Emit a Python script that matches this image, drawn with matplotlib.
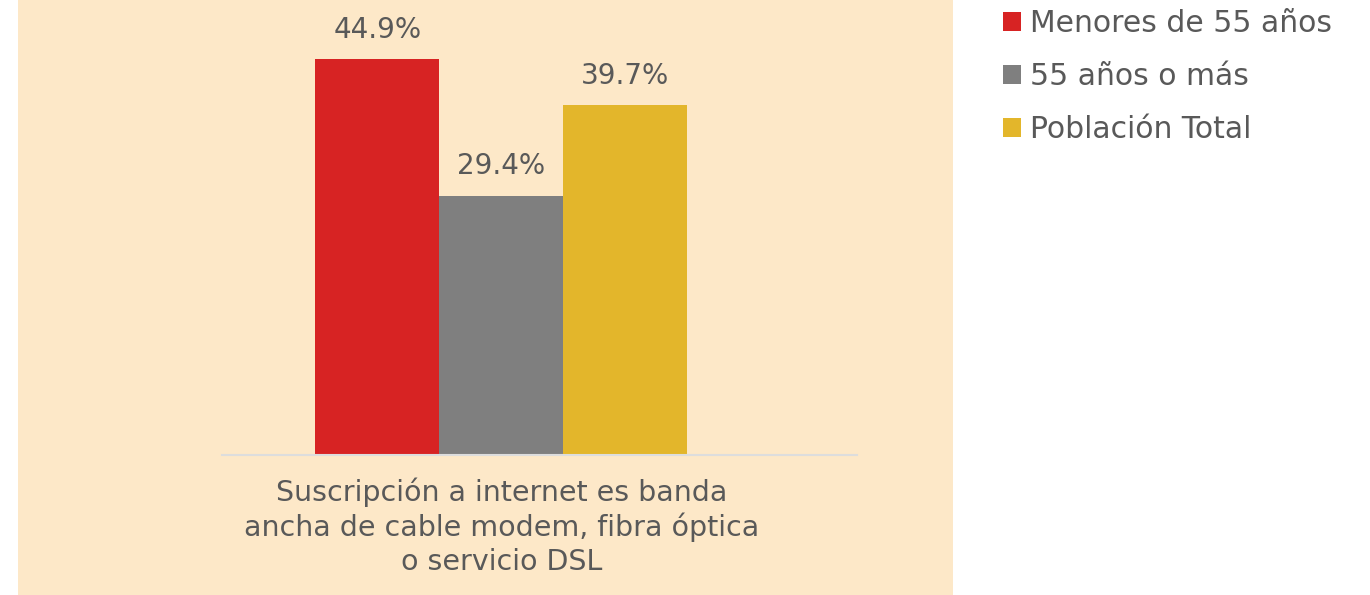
import matplotlib.pyplot as plt
from matplotlib.patches import Rectangle

category = 'Suscripción a internet es banda\nancha de cable modem, fibra óptica\no servicio DSL'
series = ['Menores de 55 años', '55 años o más', 'Población Total']
values = [44.9, 29.4, 39.7]
colors = ['#D72323', '#7F7F7F', '#E3B62B']

plt.rcParams['font.family'] = ['DejaVu Sans']
text_color = '#595959'

fig = plt.figure(figsize=(13.7, 5.95), dpi=100)
fig.patch.set_facecolor('white')
fig.patches.append(Rectangle((18 / 1370, 0), (953 - 18) / 1370, 1, transform=fig.transFigure,
                             facecolor='#FDE8C8', edgecolor='none', zorder=-1))

ax = fig.add_axes([222 / 1370, 140 / 595, 635 / 1370, 455 / 595])
ax.set_facecolor('none')
ax.set_zorder(1)

for i, (name, v, c) in enumerate(zip(series, values, colors)):
    ax.bar(i, v, width=1.0, color=c, label=name, zorder=2)
    ax.text(i, v + 1.75, f'{v}%', ha='center', va='bottom', fontsize=20, color=text_color)

ax.set_ylim(0, 51.6)
ax.set_xlim(-1.254, 3.867)
ax.set_yticks([])
ax.set_xticks([1])
ax.set_xticklabels([category], fontsize=20.5, color=text_color, linespacing=1.26)
ax.tick_params(axis='x', length=0, pad=16)
for s in ['top', 'right', 'left']:
    ax.spines[s].set_visible(False)
ax.spines['bottom'].set_color('#DDDDDD')
ax.spines['bottom'].set_linewidth(1.5)

fig.legend(loc='upper left', bbox_to_anchor=(976 / 1370, 1.03), frameon=False, fontsize=21.5,
           labelcolor=text_color, handlelength=0.6, handleheight=0.6, handletextpad=0.3,
           labelspacing=0.8)

fig.savefig('out.png', dpi=100)
